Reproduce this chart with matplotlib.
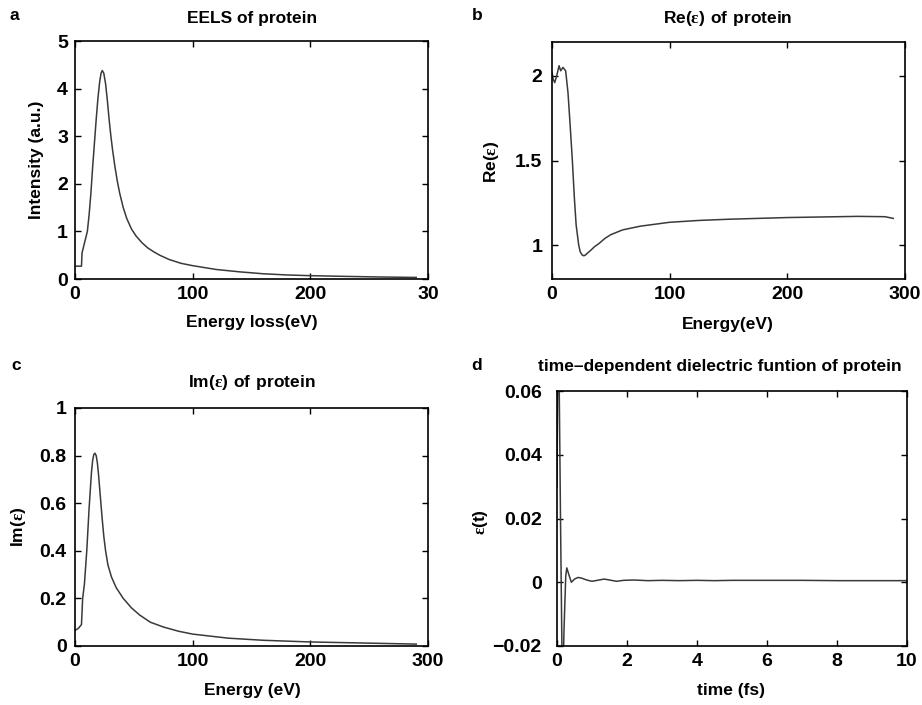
import numpy as np
import matplotlib
matplotlib.use('Agg')
import matplotlib.pyplot as plt

plt.rcParams['font.family'] = ['Liberation Sans', 'DejaVu Sans']
plt.rcParams['font.weight'] = 'bold'
plt.rcParams['mathtext.fontset'] = 'custom'
plt.rcParams['mathtext.rm'] = 'Liberation Serif'
plt.rcParams['mathtext.bf'] = 'Liberation Sans:bold'

# panel a: EELS
eels_e = [0, 5.5, 6, 7, 8.5, 10.5, 12, 13.5, 15, 16.5, 18, 19.5, 21, 22.2, 23.2, 24.5, 26, 27.5,
          29, 30.5, 32, 34, 36, 38, 41, 44, 48, 52, 57, 62, 67, 72, 80, 90, 100, 120, 140, 160,
          180, 200, 230, 260, 290]
eels_i = [0.27, 0.27, 0.55, 0.65, 0.8, 1.0, 1.35, 1.8, 2.35, 2.85, 3.35, 3.8, 4.15, 4.33, 4.38,
          4.32, 4.1, 3.75, 3.35, 3.0, 2.7, 2.35, 2.05, 1.8, 1.5, 1.27, 1.05, 0.9, 0.76, 0.65,
          0.57, 0.5, 0.41, 0.33, 0.28, 0.2, 0.15, 0.11, 0.085, 0.07, 0.055, 0.042, 0.033]

# panel b: Re(eps)
re_e = [0, 1, 2.3, 4, 6, 7.4, 9.3, 11.6, 13.6, 15.5, 17.3, 19, 20.5, 22.7, 24, 25.5, 27, 28.5,
        30, 33, 36, 40, 45, 50, 60, 75, 100, 125, 150, 200, 260, 283, 290]
re_v = [2.02, 1.98, 1.96, 2.0, 2.06, 2.03, 2.05, 2.03, 1.9, 1.7, 1.5, 1.28, 1.12, 1.0, 0.96,
        0.943, 0.937, 0.942, 0.952, 0.97, 0.99, 1.01, 1.04, 1.062, 1.09, 1.112, 1.135, 1.146,
        1.153, 1.163, 1.17, 1.168, 1.158]

# panel c: Im(eps)
im_e = [0, 3, 5.5, 6.5, 8, 10, 12, 14, 15, 16, 17, 18, 19, 20, 21.5, 23, 24.5, 26, 28, 31, 35,
        41, 48, 55, 64, 75, 88, 100, 130, 160, 200, 250, 290]
im_v = [0.065, 0.075, 0.09, 0.2, 0.26, 0.4, 0.58, 0.73, 0.78, 0.805, 0.81, 0.8, 0.77, 0.72, 0.63,
        0.54, 0.46, 0.4, 0.34, 0.29, 0.245, 0.2, 0.16, 0.13, 0.1, 0.08, 0.062, 0.05, 0.033,
        0.024, 0.017, 0.012, 0.008]

# panel d: eps(t)
t_fs = [0, 0.03, 0.06, 0.1, 0.14, 0.17, 0.2, 0.25, 0.28, 0.35, 0.41, 0.5, 0.6, 0.7, 0.85, 1.0,
        1.15, 1.35, 1.5, 1.7, 1.9, 2.2, 2.6, 3.0, 3.5, 4.0, 4.5, 5.0, 6.0, 7.0, 8.0, 9.0, 10.0]
eps_t = [0.03, 0.08, 0.065, 0.02, -0.02, -0.03, -0.015, 0.002, 0.0045, 0.002, 0.0, 0.001, 0.0015,
         0.0013, 0.0007, 0.0003, 0.0006, 0.001, 0.0007, 0.0003, 0.0006, 0.0007, 0.0005, 0.0006,
         0.0005, 0.0006, 0.0005, 0.0006, 0.0006, 0.0006, 0.0005, 0.0005, 0.0005]

W, H = 922, 705
fig = plt.figure(figsize=(W / 100, H / 100), dpi=100)


def box(x0, y0, x1, y1):
    return [x0 / W, 1 - y1 / H, (x1 - x0) / W, (y1 - y0) / H]


def ftext(x, y, s, size=12.5, **kw):
    fig.text(x / W, 1 - y / H, s, ha='center', va='center', fontsize=size, fontweight='bold', **kw)


def style(ax, ypad):
    ax.tick_params(direction='in', length=4, width=1, top=True, right=True, labelsize=14)
    ax.tick_params(axis='x', pad=5)
    ax.tick_params(axis='y', pad=ypad)
    for s in ax.spines.values():
        s.set_linewidth(1.2)
    for lab in ax.get_xticklabels() + ax.get_yticklabels():
        lab.set_fontweight('bold')


lc = '#3a3a3a'
lw = 1.1

ax = fig.add_axes(box(75, 41, 428, 279))
ax.plot(eels_e, eels_i, color=lc, lw=lw)
ax.set_xlim(0, 300)
ax.set_ylim(0, 5)
ax.set_xticks([0, 100, 200, 300])
ax.set_xticklabels(['0', '100', '200', '30'])
ax.set_yticks([0, 1, 2, 3, 4, 5])
style(ax, 5)

ax = fig.add_axes(box(552, 42, 905, 279))
ax.plot(re_e, re_v, color=lc, lw=lw)
ax.set_xlim(0, 300)
ax.set_ylim(0.8, 2.2)
ax.set_xticks([0, 100, 200, 300])
ax.set_yticks([1, 1.5, 2])
ax.set_yticklabels(['1', '1.5', '2'])
style(ax, 7)

ax = fig.add_axes(box(75, 408, 428, 646))
ax.plot(im_e, im_v, color=lc, lw=lw)
ax.set_xlim(0, 300)
ax.set_ylim(0, 1)
ax.set_xticks([0, 100, 200, 300])
ax.set_yticks([0, 0.2, 0.4, 0.6, 0.8, 1])
ax.set_yticklabels(['0', '0.2', '0.4', '0.6', '0.8', '1'])
style(ax, 6)

ax = fig.add_axes(box(557, 391, 907, 646))
ax.plot(t_fs, eps_t, color=lc, lw=lw)
ax.set_xlim(0, 10)
ax.set_ylim(-0.02, 0.06)
ax.set_xticks([0, 2, 4, 6, 8, 10])
ax.set_yticks([-0.02, 0, 0.02, 0.04, 0.06])
ax.set_yticklabels(['\u22120.02', '0', '0.02', '0.04', '0.06'])
style(ax, 11)

# panel letters
ftext(14, 16, 'a')
ftext(477, 15, 'b')
ftext(16, 366, 'c')
ftext(477, 366, 'd')

# titles
ftext(252, 18, 'EELS of protein')
ftext(728, 18, r'$\mathbf{Re(}\mathrm{\epsilon}\mathbf{)\ of\ protein}$')
ftext(252, 382, r'$\mathbf{Im(}\mathrm{\epsilon}\mathbf{)\ of\ protein}$')
ftext(720, 367, 'time\u2013dependent dielectric funtion of protein')

# x labels
ftext(252, 322, 'Energy loss(eV)')
ftext(728, 325, 'Energy(eV)')
ftext(252, 691, 'Energy (eV)')
ftext(731, 691, 'time (fs)')

# y labels
ftext(37, 160, 'Intensity (a.u.)', rotation=90)
ftext(491, 162, r'$\mathbf{Re(}\mathrm{\epsilon}\mathbf{)}$', rotation=90)
ftext(19, 527, r'$\mathbf{Im(}\mathrm{\epsilon}\mathbf{)}$', rotation=90)
ftext(480, 522, r'$\mathrm{\epsilon}\mathbf{(t)}$', rotation=90)

fig.savefig('out.png', dpi=100)
